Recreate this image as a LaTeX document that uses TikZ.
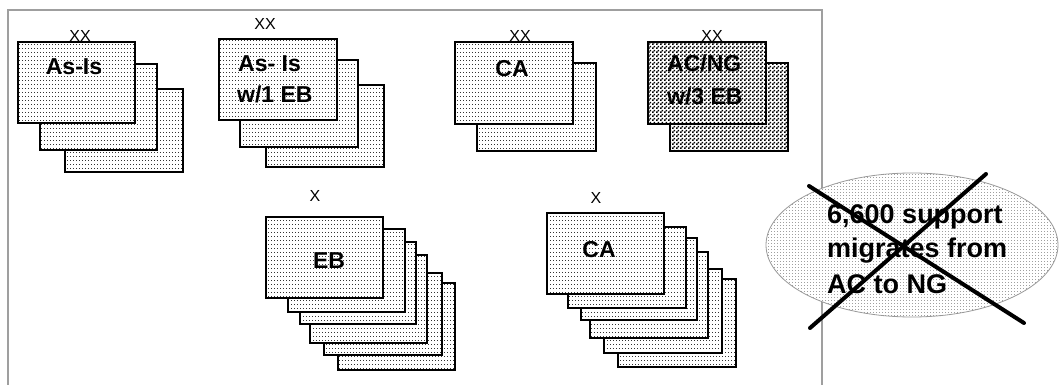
\documentclass[tikz,border=0pt]{standalone}
\usepackage{fontspec}
\setmainfont{Liberation Sans}
\usetikzlibrary{patterns,patterns.meta,shapes.geometric,fit}
\tikzdeclarepattern{
  name=ldots,
  type=uncolored,
  bottom left={(0pt,0pt)},
  top right={(3.2pt,4pt)},
  tile size={(3.2pt,4pt)},
  code={\pgfpathrectangle{\pgfpointorigin}{\pgfpoint{1pt}{1pt}}\pgfusepath{fill}}
}
\tikzdeclarepattern{
  name=edots,
  type=uncolored,
  bottom left={(0pt,0pt)},
  top right={(3pt,3pt)},
  tile size={(3pt,3pt)},
  code={\pgfpathrectangle{\pgfpointorigin}{\pgfpoint{1pt}{1pt}}\pgfusepath{fill}}
}
\tikzdeclarepattern{
  name=checker,
  type=uncolored,
  bottom left={(0pt,0pt)},
  top right={(4pt,4pt)},
  tile size={(4pt,4pt)},
  code={\pgfpathrectangle{\pgfpointorigin}{\pgfpoint{2pt}{2pt}}\pgfpathrectangle{\pgfpoint{2pt}{2pt}}{\pgfpoint{2pt}{2pt}}\pgfusepath{fill}}
}
\begin{document}
\begin{tikzpicture}[x=1pt,y=-1pt,
  cardbox/.style={draw=black, line width=1.4pt, preaction={fill=white}, pattern=ldots, pattern color=black!80, inner sep=0pt},
  darkbox/.style={draw=black, line width=1.4pt, preaction={fill=white}, pattern=checker, pattern color=black, inner sep=0pt},
  lbl/.style={font=\bfseries\fontsize{23}{27}\selectfont, inner sep=0pt},
  cnt/.style={font=\fontsize{16}{19}\selectfont, inner sep=0pt},
  elbl/.style={font=\bfseries\fontsize{27}{32}\selectfont, inner sep=0pt},
  cross/.style={line width=4pt, line cap=round, black}]
\useasboundingbox (0,0) rectangle (1061,385);
% frame
\draw[gray!75, line width=1.5pt] (8,400) -- (8,10) -- (822,10) -- (822,400);
% group 1
\node[cardbox, fit={(65,89) (183,172)}] (r13) {};
\node[cardbox, fit={(40,64) (157,150)}] (r12) {};
\node[cardbox, fit={(18,42) (135,123)}] (r11) {};
\node[lbl, anchor=base] (t1) at (74,75) {As-Is};
\node[cnt, anchor=base] (c1) at (80,42) {XX};
% group 2
\node[cardbox, fit={(266,85) (384,167)}] (r23) {};
\node[cardbox, fit={(240,60) (358,147)}] (r22) {};
\node[cardbox, fit={(219,39) (337,120)}] (r21) {};
\node[lbl, anchor=base west] (t2a) at (238,72) {As- Is};
\node[lbl, anchor=base west] (t2b) at (237,103) {w/1 EB};
\node[cnt, anchor=base] (c2) at (265,30) {XX};
% group 3
\node[cardbox, fit={(477,63) (596,151)}] (r32) {};
\node[cardbox, fit={(455,42) (573,124)}] (r31) {};
\node[lbl, anchor=base] (t3) at (512,77) {CA};
\node[cnt, anchor=base] (c3) at (520,42) {XX};
% group 4
\node[darkbox, fit={(670,63) (788,151)}] (r42) {};
\node[darkbox, fit={(648,42) (766,124)}] (r41) {};
\node[lbl, anchor=base west] (t4a) at (667,72) {AC/NG};
\node[lbl, anchor=base west] (t4b) at (667,105) {w/3 EB};
\node[cnt, anchor=base] (c4) at (712,42) {XX};
% group 5
\node[cardbox, fit={(338,283) (455,370)}] (r56) {};
\node[cardbox, fit={(324,273) (442,355)}] (r55) {};
\node[cardbox, fit={(310,255) (427,343)}] (r54) {};
\node[cardbox, fit={(300,242) (416,324)}] (r53) {};
\node[cardbox, fit={(288,229) (405,312)}] (r52) {};
\node[cardbox, fit={(266,217) (383,298)}] (r51) {};
\node[lbl, anchor=base] (t5) at (329,268) {EB};
\node[cnt, anchor=base] (c5) at (315,201) {X};
% group 6
\node[cardbox, fit={(618,279) (736,367)}] (r66) {};
\node[cardbox, fit={(604,269) (722,353)}] (r65) {};
\node[cardbox, fit={(590,252) (708,338)}] (r64) {};
\node[cardbox, fit={(581,238) (697,320)}] (r63) {};
\node[cardbox, fit={(568,227) (686,308)}] (r62) {};
\node[cardbox, fit={(547,213) (664,294)}] (r61) {};
\node[lbl, anchor=base] (t6) at (599,258) {CA};
\node[cnt, anchor=base] (c6) at (596,204) {X};
% ellipse
\node[ellipse, draw=gray!80, line width=0.8pt, preaction={fill=white}, pattern=edots, pattern color=gray!75,
      minimum width=292pt, minimum height=144pt, inner sep=0pt] (el) at (912,245) {};
\node[elbl, anchor=base west] (e1) at (827,223) {6,600 support};
\node[elbl, anchor=base west] (e2) at (827,258) {migrates from};
\node[elbl, anchor=base west] (e3) at (827,293) {AC to NG};
% cross
\coordinate (xa1) at (809,186);
\coordinate (xa2) at (1024,323);
\coordinate (xb1) at (986,174);
\coordinate (xb2) at (810,328);
\draw[cross] (xa1) -- (xa2);
\draw[cross] (xb1) -- (xb2);
\end{tikzpicture}
\end{document}
